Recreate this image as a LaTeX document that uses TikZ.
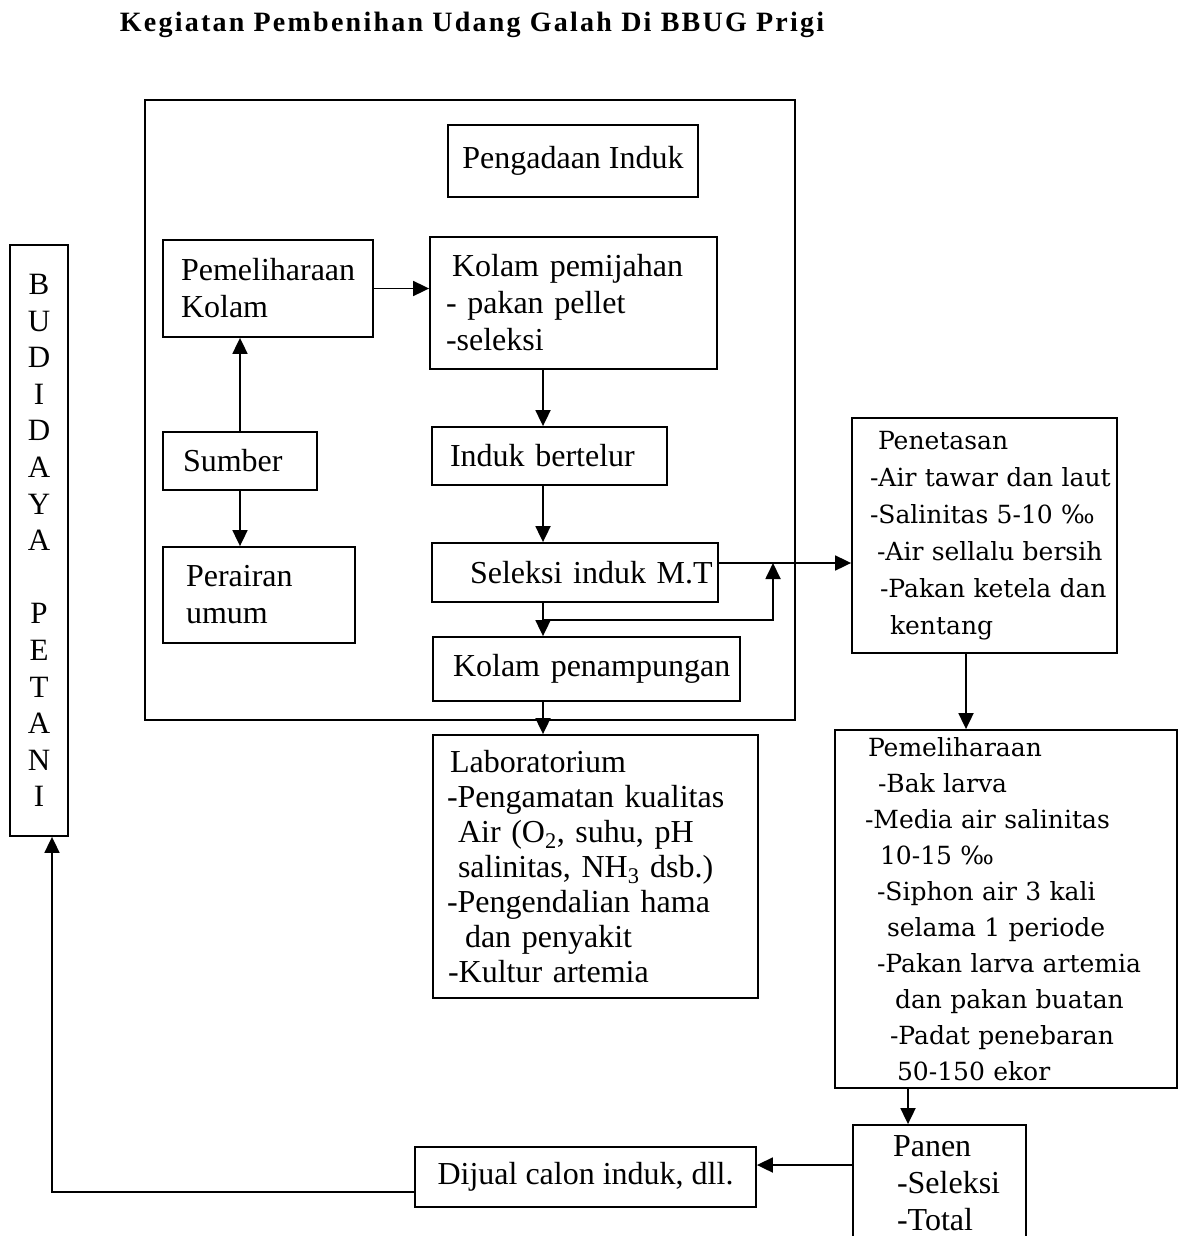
\documentclass[tikz,border=0pt]{standalone}
\usepackage{fontspec}
\setmainfont{Liberation Serif}
\newfontfamily\schfont{DejaVu Serif}
\newfontfamily\headfont[LetterSpace=8]{Liberation Serif}
\usetikzlibrary{arrows.meta}

\begin{document}
\begin{tikzpicture}[x=1pt,y=-1pt]
	\tikzstyle{Box} = [draw, line width=1.8pt, inner sep=0pt, align=left, font=\fontsize{32}{37}\selectfont]
	\tikzstyle{Wide} = [Box, font=\schfont\fontsize{25}{37}\selectfont]
	\tikzstyle{Arrow} = [-{Triangle[width=15pt,length=16pt]}, line width=1.8pt]
	\useasboundingbox (0,0) rectangle (1184,1236);

	\node (title) at (472,25) [font=\fontsize{28}{30}\selectfont\headfont\bfseries] {Kegiatan Pembenihan Udang Galah Di BBUG Prigi};

	% kotak besar
	\node (frame) at (470,410) [draw, line width=1.8pt, minimum width=650pt, minimum height=620pt] {};
	\node (pi) at (573,161) [Box, align=center, minimum width=250pt, minimum height=72pt] {Pengadaan Induk};
	\node (pk) at (268,288.5) [Box, text width=210pt, minimum height=97pt] {\hspace*{18pt}Pemeliharaan\\\hspace*{18pt}Kolam};
	\node (kp) at (573.5,303) [Box, text width=287pt, minimum height=132pt] {\hspace*{22pt}Kolam pemijahan\\\hspace*{16pt}- pakan pellet\\\hspace*{16pt}-seleksi};
	\node (sb) at (240,461) [Box, text width=154pt, minimum height=58pt] {\hspace*{20pt}Sumber};
	\node (pu) at (259,595) [Box, text width=192pt, minimum height=96pt] {\hspace*{23pt}Perairan\\\hspace*{23pt}umum};
	\node (ib) at (549.5,456) [Box, text width=235pt, minimum height=58pt] {\hspace*{18pt}Induk bertelur};
	\node (sl) at (575,572.5) [Box, text width=286pt, minimum height=59pt] {\hspace*{38pt}Seleksi induk M.T};
	\node (kpn) at (586.5,669) [Box, text width=307pt, minimum height=64pt] {\hspace*{20pt}Kolam penampungan};

	\node (lab) at (595.5,866.5) [Box, text width=325pt, minimum height=263pt, font=\fontsize{32}{35}\selectfont] {\hspace*{17pt}Laboratorium\\\hspace*{14pt}-Pengamatan kualitas\\\hspace*{25pt}Air (O\textsubscript{2}, suhu, pH\\\hspace*{25pt}salinitas, NH\textsubscript{3} dsb.)\\\hspace*{14pt}-Pengendalian hama\\\hspace*{32pt}dan penyakit\\\hspace*{15pt}-Kultur artemia};

	\node (bp) at (39,540.5) [Box, align=center, minimum width=58pt, minimum height=591pt, font=\fontsize{31}{36.6}\selectfont] {B\\U\\D\\I\\D\\A\\Y\\A\\[36.6pt]P\\E\\T\\A\\N\\I};

	\node (pn) at (984.5,535.5) [Wide, text width=265pt, minimum height=235pt] {\hspace*{26pt}Penetasan\\\hspace*{18pt}-Air tawar dan laut\\\hspace*{18pt}-Salinitas 5-10 ‰\\\hspace*{25pt}-Air sellalu bersih\\\hspace*{28pt}-Pakan ketela dan\\\hspace*{38pt}kentang};
	\node (pm) at (1006,909) [Wide, text width=342pt, minimum height=358pt, font=\schfont\fontsize{25}{36}\selectfont] {\hspace*{33pt}Pemeliharaan\\\hspace*{43pt}-Bak larva\\\hspace*{30pt}-Media air salinitas\\\hspace*{45pt}10-15 ‰\\\hspace*{42pt}-Siphon air 3 kali\\\hspace*{52pt}selama 1 periode\\\hspace*{42pt}-Pakan larva artemia\\\hspace*{60pt}dan pakan buatan\\\hspace*{55pt}-Padat penebaran\\\hspace*{62pt}50-150 ekor};
	\node (panen) at (939.5,1183.5) [Box, text width=173pt, minimum height=117pt] {\hspace*{40pt}Panen\\\hspace*{44pt}-Seleksi\\\hspace*{44pt}-Total};
	\node (dj) at (585.5,1177) [Box, align=center, minimum width=341pt, minimum height=60pt] {Dijual calon induk, dll.};

	\coordinate (spine) at (543,0);
	\coordinate (tap) at (0,563);
	\coordinate (loop) at (773,620);
	\coordinate (drop) at (966,0);
	\coordinate (drop2) at (908,0);
	\coordinate (sell) at (0,1165);
	\coordinate (back) at (52,1192);

	\draw [Arrow] (pk.east) to (pk.east -| kp.west);
	\draw [Arrow] (sb.north) to (sb.north |- pk.south);
	\draw [Arrow] (sb.south) to (sb.south |- pu.north);
	\draw [Arrow] (kp.south -| spine) to (ib.north -| spine);
	\draw [Arrow] (ib.south -| spine) to (sl.north -| spine);
	\draw [Arrow] (sl.south -| spine) to (kpn.north -| spine);
	\draw [Arrow] (kpn.south -| spine) to (lab.north -| spine);
	\draw [Arrow] (sl.east |- tap) to (pn.west |- tap);
	\draw [Arrow] (loop -| spine) -- (loop) -- (loop |- tap);
	\draw [Arrow] (pn.south -| drop) to (pm.north -| drop);
	\draw [Arrow] (pm.south -| drop2) to (panen.north -| drop2);
	\draw [Arrow] (panen.west |- sell) to (dj.east |- sell);
	\draw [Arrow] (dj.west |- back) -- (back) -- (bp.south -| back);
\end{tikzpicture}
\end{document}
